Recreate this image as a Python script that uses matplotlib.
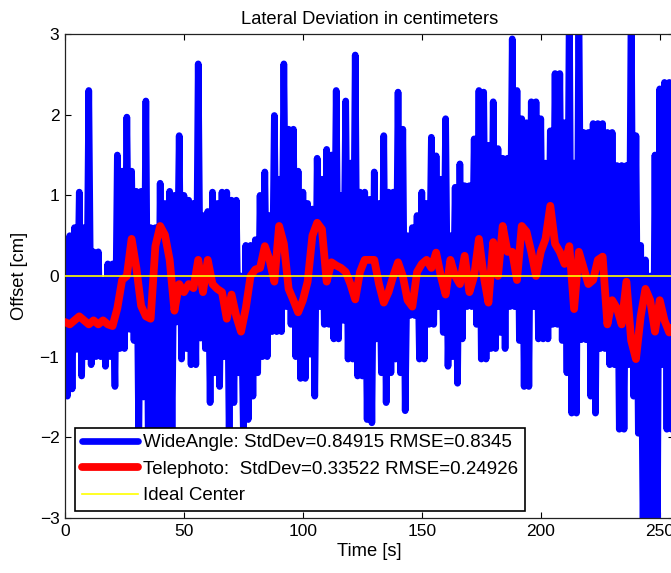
import numpy as np
import matplotlib
matplotlib.use("Agg")
import matplotlib.pyplot as plt

plt.rcParams['font.family'] = ['Liberation Sans', 'DejaVu Sans']

# Wide-angle series: alternating peak (even seconds) / trough (odd seconds) readings
wide_peaks = [0.2, 0.5, 0.6, 1.04, 0.6, 2.3, 0.3, 0.3, -0.05, 0.15,
              0.15, 1.5, 1.3, 1.97, 1.3, 1.05, 1.05, 2.17, 0.6, 0.6,
              1.15, 0.9, 1.05, 1.0, 1.74, 1.0, 0.94, 0.9, 2.63, 0.75,
              0.8, 1.04, 0.9, 1.04, 1.04, 0.94, 0.94, 0.0, 0.38, 0.38,
              0.45, 1.0, 1.29, 0.75, 1.99, 1.2, 2.63, 1.82, 1.82, 1.3,
              1.04, 0.9, 0.83, 1.46, 1.2, 1.57, 1.5, 2.3, 1.0, 2.17,
              1.4, 2.74, 1.04, 1.04, 0.95, 1.29, 0.9, 1.74, 1.04, 1.04,
              2.28, 1.82, 0.5, 0.6, 0.75, 1.04, 0.9, 1.72, 1.49, 1.2,
              1.95, 0.5, 1.1, 1.39, 1.12, 1.12, 1.7, 2.3, 2.28, 1.62,
              2.16, 1.58, 1.46, 1.46, 2.94, 2.3, 1.95, 1.9, 2.16, 2.16,
              1.95, 1.4, 1.8, 2.51, 2.51, 1.9, 3.5, 1.4, 3.5, 1.78,
              1.78, 1.89, 1.89, 1.89, 1.78, 1.78, 1.37, 1.37, 1.37, 3.5,
              1.74, 0.38, 0.2, 0.0, 1.5, 2.32, 2.4, 2.4, 2.0, 2.0]
wide_troughs = [-1.49, -1.4, -0.91, -1.24, -1.0, -1.1, -1.0, -1.0, -1.12, -1.0,
                -1.37, -0.9, -0.9, -0.66, -0.8, -2.1, -1.5, -2.1, -2.2, -2.2,
                -2.2, -2.0, -2.0, -0.57, -1.03, -0.9, -1.1, -1.1, -0.77, -0.9,
                -1.57, -1.2, -1.37, -1.0, -2.0, -1.57, -1.2, -2.0, -1.78, -1.49,
                -1.2, -1.0, -1.0, -0.69, -0.69, -0.69, -0.38, -0.6, -1.0, -1.27,
                -1.27, -0.97, -1.49, -0.38, -0.6, -0.6, -0.78, -0.78, -0.55, -1.03,
                -1.03, -1.24, -1.24, -1.78, -1.82, -0.78, -1.2, -1.57, -1.2, -1.03,
                -1.2, -1.67, -0.49, -0.49, -1.03, -1.03, -0.6, -0.6, -0.38, -0.7,
                -1.12, -1.0, -1.33, -0.78, -0.38, -0.38, -0.6, -1.03, -1.03, -0.9,
                -0.9, -0.7, -0.9, -0.38, -0.38, -0.8, -1.37, -1.37, -0.38, -0.78,
                -0.78, -0.78, -0.6, -0.6, -0.8, -1.2, -1.7, -1.7, -0.79, -0.79,
                -1.49, -1.7, -0.9, -0.9, -1.1, -1.1, -1.9, -1.9, -1.1, -1.49,
                -1.95, -3.2, -3.2, -3.2, -3.2, -1.1, -1.9, -1.9, -1.5, -1.5]

# Telephoto series, every 2 seconds
tele = [-0.57, -0.6, -0.55, -0.5, -0.55, -0.6, -0.55, -0.6, -0.55, -0.6,
        -0.62, -0.4, -0.05, 0.0, 0.46, 0.1, -0.37, -0.5, -0.53, 0.37,
        0.62, 0.51, 0.2, -0.43, -0.1, -0.2, -0.1, -0.15, 0.2, -0.2,
        0.2, -0.1, -0.16, -0.2, -0.53, -0.23, -0.5, -0.69, -0.4, 0.0,
        0.08, 0.1, 0.37, 0.2, -0.07, 0.62, 0.4, -0.16, -0.3, -0.45,
        -0.3, -0.07, 0.5, 0.66, 0.58, -0.07, 0.17, 0.13, 0.1, 0.05,
        -0.1, -0.29, 0.05, 0.2, 0.2, 0.2, -0.1, -0.33, -0.2, 0.0,
        0.17, 0.0, -0.3, -0.38, 0.05, 0.15, 0.2, 0.1, 0.29, 0.0,
        -0.23, 0.2, 0.0, -0.1, 0.25, -0.2, 0.0, 0.46, 0.0, -0.33,
        0.42, 0.0, 0.62, 0.3, 0.3, -0.05, 0.62, 0.55, 0.3, 0.0,
        0.3, 0.46, 0.87, 0.4, 0.3, 0.15, 0.37, -0.41, 0.3, 0.1,
        -0.1, -0.05, 0.2, 0.24, -0.6, -0.3, -0.4, -0.6, -0.07, -0.8,
        -1.03, -0.5, -0.16, -0.3, -0.69, -0.3, -0.55, -0.7, -0.6, -0.6]

ideal_time = [0, 260]
ideal_center = [0, 0]

labels = ['WideAngle: StdDev=0.84915 RMSE=0.8345',
          'Telephoto:  StdDev=0.33522 RMSE=0.24926',
          'Ideal Center']

wide = np.empty(len(wide_peaks) + len(wide_troughs))
wide[0::2] = wide_peaks
wide[1::2] = wide_troughs
t_wide = np.arange(len(wide))
t_tele = np.arange(len(tele)) * 2

W, H = 671, 573
fig = plt.figure(figsize=(W / 100, H / 100), dpi=100)
ax = fig.add_axes([65 / W, (H - 518) / H, (674 - 65) / W, (518 - 34) / H])

l1, = ax.plot(t_wide, wide, color='#0000FF', lw=4.8,
              solid_joinstyle='round', solid_capstyle='round', zorder=2)
l2, = ax.plot(t_tele, tele, color='#FF0000', lw=5.6,
              solid_joinstyle='round', solid_capstyle='round', zorder=3)
l3, = ax.plot(ideal_time, ideal_center, color='#FFFF00', lw=1.2, zorder=4)

ax.set_xlim(0, 256)
ax.set_ylim(-3, 3)
ax.set_xticks([0, 50, 100, 150, 200, 250])
ax.set_yticks([-3, -2, -1, 0, 1, 2, 3])
ax.tick_params(direction='in', top=True, right=True, length=4, width=0.8,
               labelsize=12.5, pad=4, colors='black')
for s in ax.spines.values():
    s.set_linewidth(0.9)
    s.set_color('#222222')

ax.set_title('Lateral Deviation in centimeters', fontsize=13.2, pad=7)
ax.set_xlabel('Time [s]', fontsize=13.2, labelpad=3)
ax.set_ylabel('Offset [cm]', fontsize=13.2, labelpad=8)

leg = ax.legend([l1, l2, l3], labels, loc='lower left',
                bbox_to_anchor=(10 / 609, 7 / 484), borderaxespad=0,
                fontsize=13.5, handlelength=3.0, handletextpad=0.3,
                labelspacing=0.5, borderpad=0.35, fancybox=False,
                framealpha=1, edgecolor='black')
leg.get_frame().set_linewidth(1.2)
leg.set_zorder(10)

fig.savefig('out.png', dpi=100, facecolor='white')
